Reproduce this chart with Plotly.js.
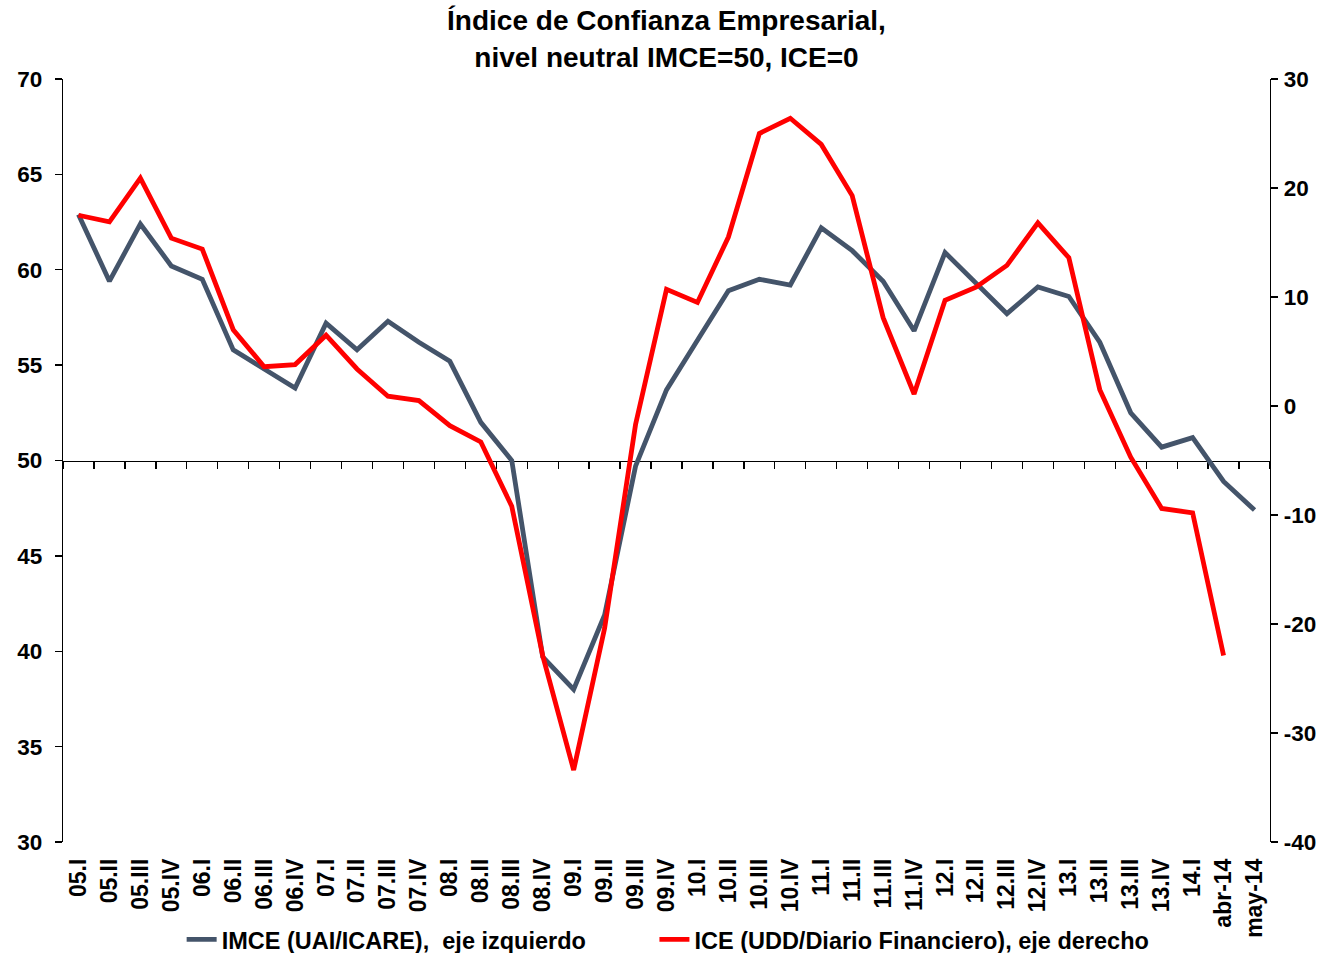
<!DOCTYPE html>
<html><head><meta charset="utf-8">
<script src="https://cdn.plot.ly/plotly-3.0.1.min.js"></script>
<style>html,body{margin:0;padding:0;background:#fff}</style>
</head><body><div id="chart" style="width:1329px;height:953px"></div>
<script>
const categories = ['05.I','05.II','05.III','05.IV','06.I','06.II','06.III','06.IV','07.I','07.II','07.III','07.IV','08.I','08.II','08.III','08.IV','09.I','09.II','09.III','09.IV','10.I','10.II','10.III','10.IV','11.I','11.II','11.III','11.IV','12.I','12.II','12.III','12.IV','13.I','13.II','13.III','13.IV','14.I','abr-14','may-14'];
const imce = [62.9,59.4,62.4,60.2,59.5,55.8,54.8,53.8,57.2,55.8,57.3,56.2,55.2,52.0,50.0,39.7,38.0,41.9,49.7,53.7,56.3,58.9,59.5,59.2,62.2,61.0,59.4,56.8,60.9,59.3,57.7,59.1,58.6,56.2,52.5,50.7,51.2,48.9,47.4];
const ice = [17.5,16.9,20.9,15.4,14.4,7.0,3.6,3.8,6.5,3.4,0.9,0.5,-1.8,-3.3,-9.2,-22.9,-33.4,-20.4,-1.7,10.7,9.5,15.5,25.0,26.4,24.0,19.3,8.1,1.1,9.7,10.9,12.9,16.8,13.6,1.5,-4.7,-9.4,-9.8,-22.9,null];
const seriesNames = ['IMCE (UAI/ICARE),\u00a0 eje izquierdo', 'ICE (UDD/Diario Financiero), eje derecho'];
const titleText = 'Índice de Confianza Empresarial,<br>nivel neutral IMCE=50, ICE=0';
const leftTicks = [30, 35, 40, 45, 50, 55, 60, 65, 70];
const rightTickVals = [-40, -30, -20, -10, 0, 10, 20, 30];
const rightTickText = ['-40', '-30', '-20', '-10', '0', '10', '20', '30'];

const FONT = 'Liberation Sans, Arial, sans-serif';
const traces = [
  {x: categories, y: imce, name: seriesNames[0], type: 'scatter', mode: 'lines',
   line: {color: '#44546A', width: 4.8}, xaxis: 'x', yaxis: 'y', hoverinfo: 'skip', legend: 'legend'},
  {x: categories, y: ice, name: seriesNames[1], type: 'scatter', mode: 'lines',
   line: {color: '#FF0000', width: 4.8}, xaxis: 'x2', yaxis: 'y2', hoverinfo: 'skip', connectgaps: false, legend: 'legend2'}
];
const n = categories.length;
const legendFont = {family: FONT, size: 23.5, color: '#000', weight: 'bold'};
const layout = {
  width: 1329, height: 953,
  margin: {l: 63, r: 59, t: 79, b: 111, pad: 0, autoexpand: false},
  paper_bgcolor: '#fff', plot_bgcolor: '#fff',
  font: {family: FONT, color: '#000'},
  title: {text: titleText, font: {family: FONT, size: 28, color: '#000', weight: 'bold'},
          x: 0.5, xanchor: 'center', xref: 'paper', yref: 'container', y: 0.968, yanchor: 'middle', automargin: false},
  showlegend: true,
  legend: {orientation: 'h', x: 0.0983, xanchor: 'left', y: -0.128, yanchor: 'middle', font: legendFont, bgcolor: 'rgba(0,0,0,0)'},
  legend2: {orientation: 'h', x: 0.490, xanchor: 'left', y: -0.128, yanchor: 'middle', font: legendFont, bgcolor: 'rgba(0,0,0,0)'},
  xaxis: {type: 'category', range: [-0.5, n - 0.5], showline: false, showgrid: false, zeroline: false,
          ticks: '', tickangle: -90, ticklabelstandoff: 11, automargin: false,
          tickfont: {family: FONT, size: 23, color: '#000', weight: 'bold'}},
  xaxis2: {type: 'category', overlaying: 'x', anchor: 'free', position: 0.5, side: 'bottom',
           range: [-0.5, n - 0.5], showline: true, linecolor: '#000', linewidth: 1.3,
           ticks: 'outside', ticklen: 7, tickwidth: 1.3, tickcolor: '#000', tickson: 'boundaries',
           showticklabels: false, showgrid: false, zeroline: false, layer: 'below traces', automargin: false},
  yaxis: {range: [30, 70], tickmode: 'array', tickvals: leftTicks, showline: true, linecolor: '#000', linewidth: 1.3,
          ticks: 'outside', ticklen: 7, tickwidth: 1.3, tickcolor: '#000', showgrid: false, zeroline: false,
          ticklabelstandoff: 8, automargin: false,
          tickfont: {family: FONT, size: 22.5, color: '#000', weight: 'bold'}},
  yaxis2: {overlaying: 'y', side: 'right', range: [-40, 30], tickmode: 'array', tickvals: rightTickVals, ticktext: rightTickText,
           showline: true, linecolor: '#000', linewidth: 1.3,
           ticks: 'outside', ticklen: 7, tickwidth: 1.3, tickcolor: '#000', showgrid: false, zeroline: false,
           ticklabelstandoff: 1, automargin: false,
           tickfont: {family: FONT, size: 22.5, color: '#000', weight: 'bold'}}
};
Plotly.newPlot('chart', traces, layout, {displayModeBar: false, staticPlot: true});
</script>
</body></html>
